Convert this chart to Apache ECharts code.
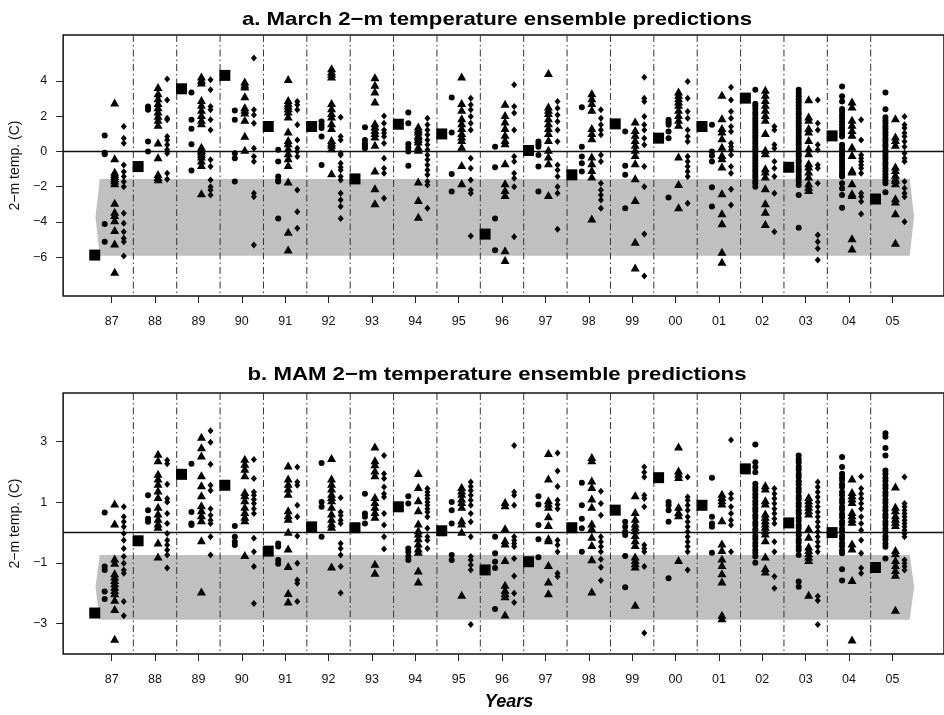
<!DOCTYPE html>
<html lang="en">
<head>
<meta charset="UTF-8">
<title>2-m temperature ensemble predictions</title>
<script src="https://cdn.jsdelivr.net/npm/echarts@6.0.0/dist/echarts.min.js"></script>
<style>
  html, body { margin: 0; padding: 0; background: #fff; }
</style>
</head>
<body>
<div id="main" style="width: 944px; height: 715px;"></div>
<script type="text/javascript">
// years on the x axis (one slot per year)
const years = ['87','88','89','90','91','92','93','94','95','96','97','98','99','00','01','02','03','04','05'];

// ---- panel a: March ----
const aObs = [-5.88, -0.86, 3.55, 4.31, 1.41, 1.41, -1.56, 1.54, 0.99, -4.69, 0.05, -1.33, 1.56, 0.75, 1.41, 3.02, -0.9, 0.88, -2.7];
const aDots = [
  [0.9, -0.07, -0.16, -4.12, -5.12],
  [2.55, 2.45, 2.36, 0.56, 0],
  [3.34, 1.79, 1.28, 0.41, -1.09],
  [2.32, 1.79, -0.1, -0.39, -1.71],
  [0.09, -0.58, -1.43, -1.62, -1.71, -3.8],
  [1.69, 1.5, 1.32, 0.84, -0.77],
  [1.37, 0.65, 0.45, 0.3, 0.18],
  [2.2, 1.6, 0.42, 0.2, 0, -0.82],
  [3.06, 1.07, -1.28, -2.28],
  [0.27, -0.9, -3.8, -5.6],
  [0.56, 0.4, 0.27, -0.2, -0.86, -2.28],
  [2.5, 0.27, -0.29, -0.67, -1.14],
  [1.13, -0.82, -1.33, -3.23],
  [1.79, 1.65, 1.51, 1.13, 0.75, -2.62],
  [1.51, 0, -0.25, -0.58, -2.04, -3.13],
  [3.49, 2.7, 2.57, 2.4, 2.21, 2.06, 1.88, 1.73, 1.57, 1.41, 1.24, 1.09, 0.91, 0.77, 0.6, 0.45, 0.28, 0.12, -0.03, -0.2, -0.36, -0.51, -0.69, -0.84, -1.01, -1.15, -1.33, -1.47, -1.66, -1.81, -2.0],
  [3.49, 3.31, 3.12, 2.94, 2.79, 2.6, 2.43, 2.24, 2.09, 1.9, 1.73, 1.57, 1.39, 1.22, 1.06, 0.87, 0.71, 0.53, 0.37, 0.19, 0.02, -0.16, -0.31, -0.5, -0.65, -0.84, -1.01, -1.17, -1.36, -1.52, -1.71, -1.9, -2.47, -4.33],
  [3.68, 3.12, 2.83, 2.41, 2.23, 2.04, 1.88, 1.69, 1.53, 1.34, 1.18, 1.0, 0.84, 0.37, 0.2, 0.03, -0.15, -0.3, -0.49, -0.64, -0.83, -0.99, -1.17, -1.31, -1.43, -1.8, -2.1, -2.47, -3.19],
  [3.34, 2.39, 1.94, 1.77, 1.61, 1.43, 1.27, 1.09, 0.93, 0.75, 0.59, 0.41, 0.26, 0.07, -0.09, -0.27, -0.43, -0.61, -0.77, -0.96, -1.11, -1.3, -1.47, -1.63, -1.8, -2.32]
];
const aTris = [
  [2.77, -0.39, -1.15, -1.28, -1.4, -1.52, -1.65, -1.8, -2.91, -3.42, -3.61, -3.9, -4.46, -5.22, -6.83],
  [3.65, 3.3, 3.02, 2.74, 2.51, 2.26, 2.02, 1.79, 1.51, 0.5, -0.33, -1.28, -1.45, -1.58],
  [4.25, 4.06, 3.9, 2.92, 2.64, 2.36, 2.07, 1.79, 1.6, 0.27, 0.1, 0, -0.15, -0.29, -0.52, -0.77, -2.38],
  [3.97, 3.8, 3.68, 3.12, 2.5, 2.36, 2.2, 1.79, 0.88, 0.09],
  [4.1, 2.92, 2.74, 2.6, 2.45, 2.26, 1.98, 1.13, 0.65, 0.46, 0.18, -0.1, -0.39, -0.77, -1.71, -4.55, -5.56],
  [4.72, 4.53, 4.4, 4.25, 2.74, 2.45, 2.17, 1.98, 1.6, 1.32, 0.65, 0.5, 0.37, 0.18, -1.24],
  [4.21, 3.78, 3.4, 2.83, 1.6, 1.41, 1.22, 1.04, 0.84, 0.37, -1.09, -2.09, -2.94],
  [1.41, 1.25, 1.13, 0.95, 0.84, 0.7, 0.56, 0.27, 0.09, -1.71, -2.75, -3.7],
  [4.25, 2.74, 2.36, 1.88, 1.6, 1.32, 1.04, 0.84, 0.65, 0.27, -0.77, -1.81],
  [2.7, 2.07, 1.69, 1.32, 0.94, 0.65, 0.46, -0.67, -1.81, -2.19, -2.47, -5.6, -6.16],
  [4.44, 2.55, 2.36, 2.17, 1.88, 1.6, 1.32, 1.04, 0.65, 0.09, -0.29, -0.67, -2.47],
  [3.3, 3.02, 2.74, 2.36, 1.32, 1.04, 0.75, -0.29, -0.67, -1.05, -1.43, -3.8],
  [1.69, 1.22, 0.94, 0.65, 0.37, 0.09, -0.2, -0.67, -1.52, -2.75, -5.12, -6.58],
  [3.4, 3.21, 3.02, 2.83, 2.64, 2.36, 2.07, 1.79, 1.51, -0.29, -1.85, -3.17],
  [3.21, 1.88, 1.32, 1.13, 0.75, 0.27, -0.2, -0.39, -0.86, -2.38, -3.51, -4.08, -5.69, -6.26],
  [3.49, 3.21, 2.92, 2.64, 2.36, 2.07, 1.79, 1.04, 0.09, -0.1, -0.96, -1.14, -1.43, -2.09, -2.94, -3.42, -4.12],
  [2.96, 1.98, 1.79, 1.32, 1.13, 0.65, 0.18, -0.1, -0.67, -0.86, -1.14, -1.43, -1.81, -2.0, -2.19],
  [2.83, 2.55, 1.79, 1.51, 1.22, 0.94, 0.27, -0.2, -1.05, -1.14, -1.81, -2.38, -2.47, -4.93, -5.5],
  [1.88, 0.84, 0.65, 0.37, -0.86, -1.05, -1.33, -1.52, -1.62, -1.81, -2.66, -2.84, -3.51, -5.18]
];
const aDiams = [
  [1.41, 0.75, 0.46, -0.77, -1.15, -1.43, -1.72, -2.0, -3.51, -4.08, -4.55, -4.93, -5.12, -5.93],
  [4.1, 2.92, 1.88, 1.79, 0.84, 0.65, 0.37, 0.09, -0.1, -1.24, -1.58],
  [4.06, 3.49, 2.55, 2.36, 1.79, 1.22, -0.48, -0.86, -1.62, -2.0, -2.19, -2.47],
  [5.3, 2.36, 2.07, 1.6, 0.18, -0.29, -0.58, -2.38, -2.57, -5.31],
  [2.83, 2.64, 2.36, 1.51, 0.65, 0.18, 0, -0.29, -2.19, -3.42, -4.36],
  [1.94, 0.84, 0.65, -0.1, -0.2, -0.67, -0.9, -1.05, -1.43, -1.62, -2.38, -2.75, -3.13, -3.8],
  [2.0, 1.6, 1.22, 1.04, 0.84, 0.46, -0.39, -0.96, -1.24, -2.66],
  [1.88, 1.51, 1.22, 0.94, 0.65, 0.37, 0.09, -0.2, -0.48, -0.77, -1.05, -1.33, -1.71, -1.9, -3.23],
  [3.02, 2.64, 2.36, 1.98, 1.6, 1.22, -0.39, -0.96, -1.62, -2.19, -2.38, -4.8],
  [3.78, 2.55, 2.17, 1.22, -0.29, -0.58, -1.24, -1.52, -2.0, -4.84],
  [2.83, 2.45, 2.07, 1.69, 1.22, 0.56, -0.77, -1.05, -1.43, -2.0, -2.38, -4.42],
  [2.36, 1.88, 1.51, 1.22, 0.94, -0.2, -0.58, -1.81, -2.19, -2.47, -2.75, -3.23],
  [4.21, 3.02, 2.83, 1.98, 1.51, 1.22, 0.75, 0.37, -0.86, -2.0, -4.69, -7.07],
  [3.97, 3.02, 2.26, 1.88, 1.22, 0.84, 0.56, -0.29, -0.58, -0.86, -1.14, -1.43, -2.94],
  [3.64, 2.92, 2.26, 1.88, 1.41, 1.13, 0.46, 0.27, 0.09, -0.2, -0.86, -1.24, -2.15, -3.04],
  [1.41, 1.22, 0.37, 0.18, -0.58, -0.96, -1.43, -2.38, -4.55],
  [2.92, 1.6, 1.22, 0.37, 0.09, -0.77, -0.96, -1.81, -4.74, -5.12, -5.5, -6.16],
  [1.79, 0.65, -0.2, -0.39, -0.58, -0.77, -0.96, -1.24, -2.38, -2.57, -2.84, -3.55],
  [1.98, 1.51, 1.32, 1.04, 0.84, 0.56, 0.27, -0.1, -0.39, -0.58, -1.71, -2.09, -2.38, -2.57, -3.99]
];
// grey band (x in year slots, y in deg C)
const aBandX = [-0.372, -0.274, 18.40, 18.50, 18.40, -0.274];
const aBandY = [-3.70, -1.56, -1.56, -3.70, -5.92, -5.92];

// ---- panel b: MAM ----
const bObs = [-2.65, -0.27, 1.92, 1.56, -0.61, 0.19, 0.16, 0.85, 0.06, -1.23, -0.96, 0.16, 0.74, 1.81, 0.9, 2.1, 0.32, 0, -1.15];
const bDots = [
  [0.66, -1.12, -1.23, -1.94, -2.19],
  [1.23, 0.74, 0.46, 0.36],
  [2.27, 0.68, 0.3, 0.25],
  [0.22, -0.14, -0.3, -0.41],
  [-0.36, -0.46, -0.9, -1.03],
  [2.29, 1.01, 0.85, -0.14],
  [1.28, 0.63, 0.52, 0.3],
  [1.2, 0.96, -0.52, -0.63, -0.79, -0.9],
  [1.01, 0.74, 0.3, -0.74, -0.9],
  [-0.14, -0.68, -0.96, -1.17, -2.52],
  [1.2, 0.93, 0.25, -0.22, -0.81],
  [1.64, 0.9, 0.46, 0.14, -0.63],
  [0.36, 0.19, 0.03, -0.08, -0.77, -1.8],
  [1.01, 0.9, 0.74, 0.36, -1.5],
  [1.81, 0.52, 0.3, 0.19, -0.66],
  [2.9, 2.32, 2.16, 1.99, 1.61, 1.49, 1.39, 1.26, 1.16, 1.03, 0.93, 0.8, 0.71, 0.57, 0.48, 0.34, 0.25, 0.11, 0.02, -0.11, -0.21, -0.34, -0.44, -0.57, -0.67, -0.79, -0.99],
  [2.54, 2.41, 2.31, 2.17, 2.07, 1.93, 1.83, 1.69, 1.59, 1.45, 1.35, 1.21, 1.11, 0.97, 0.87, 0.73, 0.63, 0.49, 0.39, 0.25, 0.15, 0.01, -0.09, -0.23, -0.33, -0.47, -0.57, -0.74, -1.61, -1.78],
  [2.49, 2.16, 1.94, 1.82, 1.73, 1.59, 1.5, 1.34, 1.23, 1.09, 0.99, 0.85, 0.75, 0.61, 0.51, 0.37, 0.27, 0.13, 0.03, -0.11, -0.21, -0.35, -0.45, -0.59, -0.68, -1.21, -1.58],
  [3.27, 3.16, 2.79, 2.54, 2.05, 1.94, 1.8, 1.7, 1.56, 1.46, 1.32, 1.22, 1.08, 0.98, 0.84, 0.74, 0.6, 0.5, 0.36, 0.26, 0.12, 0.02, -0.12, -0.22, -0.36, -0.47, -0.85]
];
const bTris = [
  [0.96, 0.3, -0.85, -0.99, -1.34, -1.45, -1.56, -1.67, -1.78, -1.89, -2.0, -2.21, -2.52, -3.5],
  [2.6, 2.38, 1.94, 1.78, 1.61, 1.39, 1.17, 0.85, 0.63, 0.46, 0.3, 0.19, -0.33, -0.79],
  [3.16, 2.81, 2.54, 1.89, 1.56, 1.23, 0.9, 0.74, 0.57, 0.41, -0.25, -1.94],
  [2.43, 2.27, 2.1, 1.89, 1.34, 1.23, 1.07, 0.85, 0.68, 0.52, 0.41, -0.74],
  [2.21, 1.78, 1.61, 1.45, 1.28, 0.74, 0.57, 0.46, 0.03, -0.52, -1.1, -1.99, -2.27],
  [2.46, 1.78, 1.61, 1.45, 1.28, 1.17, 1.07, 0.85, 0.63, 0.46, 0.3, 0.19, -1.12],
  [2.84, 2.38, 2.25, 2.05, 1.89, 1.17, 1.01, 0.85, 0.68, 0.52, -1.03, -1.32],
  [1.96, 1.5, 1.07, 0.74, 0.3, 0.08, -0.03, -0.19, -0.36, -0.52, -0.63, -1.25, -1.61],
  [1.5, 1.39, 1.28, 1.12, 1.01, 0.85, 0.41, 0.3, 0.03, -2.05],
  [1.01, 0.9, 0.14, -0.25, -0.36, -0.9, -1.72, -1.89, -2.0, -2.1, -2.7],
  [2.62, 1.78, 1.07, 0.96, 0.85, 0.54, 0.25, -0.19, -0.25, -1.07, -1.61, -2.0],
  [2.49, 2.38, 1.72, 1.5, 1.12, 0.85, 0.3, 0.14, -0.14, -0.41, -0.88, -1.94],
  [1.23, 0.68, 0.46, 0.3, 0.19, 0.08, -0.08, -0.25, -0.41, -0.79, -0.9, -1.01, -1.12, -2.38],
  [2.84, 2.05, 1.94, 1.83, 0.85, 0.68, 0.57, -0.9],
  [1.28, 1.17, 1.07, 0.96, 0.41, -0.36, -0.57, -0.85, -1.07, -1.34, -1.61, -2.71, -2.82],
  [1.56, 1.45, 1.07, 0.96, 0.63, 0.52, 0.41, 0.3, 0.19, 0.08, -0.03, -0.25, -0.79, -1.17, -1.28],
  [1.17, 1.07, 0.96, 0.85, 0.74, 0.63, 0.14, -0.14, -0.46, -0.57, -0.68, -0.79, -0.9, -2.05],
  [1.78, 1.34, 1.23, 1.12, 1.01, 0.68, 0.57, 0.46, 0.36, -0.36, -0.52, -1.56, -3.52],
  [1.52, 0.85, 0.74, 0.57, 0.46, 0.36, 0.25, -0.57, -0.68, -0.9, -1.07, -1.23, -1.39, -2.54]
];
const bDiams = [
  [0.85, 0.52, 0.36, 0.19, -0.03, -0.25, -0.52, -0.79, -1.01, -1.23, -1.34, -2.27, -2.74],
  [2.38, 2.27, 1.59, 1.12, 1.01, 0.63, 0.3, -0.03, -0.25, -0.41, -0.57, -0.74, -1.17],
  [3.36, 2.98, 2.25, 1.56, 1.39, 0.79, 0.57, 0.41, 0.3, -0.14, -0.74],
  [2.41, 1.78, 1.34, 1.23, 1.09, 0.96, 0.79, 0.63, -0.19, -0.63, -1.12, -2.34],
  [2.16, 1.67, 1.56, 0.9, 0.52, -0.11, -1.01, -1.56, -1.67, -2.27],
  [1.15, 0.68, 0.57, 0.41, 0.3, -0.36, -0.52, -0.74, -1.12, -1.99],
  [2.54, 1.94, 1.78, 1.5, 1.28, 1.17, 0.63, 0.25, -0.14, -0.54],
  [1.45, 1.34, 1.23, 1.12, 1.01, 0.9, 0.79, 0.68, 0.52, 0.14, -0.14, -0.25, -0.52],
  [1.67, 1.52, 1.39, 1.23, 1.07, 0.9, 0.63, 0.36, -0.14, -0.79, -0.9, -1.07, -1.23, -3.03],
  [2.87, 1.34, 1.23, 0.9, -0.14, -0.25, -0.36, -0.46, -0.85, -1.43, -2.0, -2.3],
  [2.62, 2.03, 1.52, 1.07, 0.93, 0.79, -0.25, -0.41, -0.63, -1.34, -1.45],
  [1.36, 0.96, 0.57, -0.14, -0.3, -0.46, -0.63, -0.88, -1.14, -1.58],
  [2.16, 1.99, 1.83, 1.23, 1.12, 0.85, -0.41, -0.52, -0.63, -1.12, -3.31],
  [1.83, 1.17, 1.07, 0.9, 0.74, 0.52, 0.36, 0.19, 0.03, -0.14, -0.3, -0.46, -0.63, -1.23],
  [3.05, 1.28, 1.12, 0.85, 0.63, 0.41, 0.25, -0.63],
  [1.45, 1.28, 1.12, 0.96, 0.79, 0.63, 0.46, 0.3, -0.3, -0.63, -1.45, -1.83],
  [1.67, 1.5, 1.34, 1.17, 1.01, 0.85, 0.68, 0.52, 0.36, 0.19, 0.03, -0.14, -0.3, -0.46, -0.63, -2.1, -2.24, -3.03],
  [1.85, 1.45, 1.28, 1.12, 0.96, 0.79, 0.52, 0.3, 0.08, -0.25, -0.68, -1.17, -1.34],
  [1.83, 0.96, 0.85, 0.74, 0.63, 0.52, 0.41, 0.3, 0.19, 0.08, -0.03, -0.14, -0.9, -1.01, -1.12, -1.23]
];
const bBandX = [-0.372, -0.274, 18.40, 18.50, 18.40, -0.274];
const bBandY = [-1.78, -0.74, -0.74, -1.78, -2.87, -2.87];

// y ticks of each panel
const aYTicks = [-6, -4, -2, 0, 2, 4];
const bYTicks = [-3, -1, 1, 3];

// horizontal shift of each marker column inside a year slot
const OFF_OBS = -0.39, OFF_DOT = -0.16, OFF_TRI = 0.07, OFF_DIA = 0.28;

const FONT = 'Liberation Sans, Arial, Helvetica, sans-serif';
const xTicks = years.map((y, i) => i);
const separators = years.slice(1).map((y, i) => i + 0.5);

function minus(v) {
    return v < 0 ? '\u2212' + Math.abs(v) : String(v);
}

function members(lists, off) {
    const out = [];
    lists.forEach((vals, i) => vals.forEach(v => out.push([i + off, v])));
    return out;
}

function xAxisFor(g) {
    return {
        gridIndex: g, type: 'value', min: -1.118, max: 19.19, position: 'bottom',
        axisLine: { show: false, onZero: false },
        axisTick: { show: true, length: 7, customValues: xTicks, lineStyle: { color: '#222', width: 1 } },
        axisLabel: { customValues: xTicks, formatter: v => years[Math.round(v)], color: '#111', fontSize: 12.5, fontFamily: FONT, margin: 19 },
        splitLine: { show: false }
    };
}

function yAxisFor(g, min, max, ticks) {
    return {
        gridIndex: g, type: 'value', min: min, max: max, position: 'left',
        name: '2\u2212m temp. (C)', nameLocation: 'middle', nameGap: 35,
        nameTextStyle: { color: '#111', fontSize: 14, fontFamily: FONT },
        axisLine: { show: false, onZero: false },
        axisTick: { show: true, length: 7, customValues: ticks, lineStyle: { color: '#222', width: 1 } },
        axisLabel: { customValues: ticks, formatter: minus, color: '#111', fontSize: 12.5, fontFamily: FONT, margin: 16 },
        splitLine: { show: false }
    };
}

function panelSeries(g, obs, dots, tris, diams, bandX, bandY) {
    const solid = { color: '#000', opacity: 1 };
    return [
        { // grey band
            type: 'custom', xAxisIndex: g, yAxisIndex: g, z: 1, silent: true,
            data: [[0, 0]],
            renderItem: function (params, api) {
                const pts = bandX.map((x, k) => api.coord([x, bandY[k]]));
                return { type: 'polygon', shape: { points: pts }, style: { fill: '#c0c0c0' } };
            }
        },
        { // year separators (dash-dot)
            type: 'custom', xAxisIndex: g, yAxisIndex: g, z: 2, silent: true,
            data: separators.map(s => [s, 0]),
            renderItem: function (params, api) {
                const x = api.coord([api.value(0), 0])[0];
                const cs = params.coordSys;
                return { type: 'line', shape: { x1: x, y1: cs.y, x2: x, y2: cs.y + cs.height },
                         style: { stroke: '#333', lineWidth: 1, lineDash: [7, 3, 1.5, 3] } };
            }
        },
        { // zero line
            type: 'custom', xAxisIndex: g, yAxisIndex: g, z: 2, silent: true,
            data: [[0, 0]],
            renderItem: function (params, api) {
                const y = api.coord([0, api.value(1)])[1];
                const cs = params.coordSys;
                return { type: 'line', shape: { x1: cs.x, y1: y, x2: cs.x + cs.width, y2: y },
                         style: { stroke: '#111', lineWidth: 1.5 } };
            }
        },
        { type: 'scatter', xAxisIndex: g, yAxisIndex: g, z: 3, symbol: 'circle', symbolSize: 6,
          itemStyle: solid, data: members(dots, OFF_DOT) },
        { type: 'scatter', xAxisIndex: g, yAxisIndex: g, z: 3, symbol: 'triangle', symbolSize: [9, 8],
          itemStyle: solid, data: members(tris, OFF_TRI) },
        { type: 'scatter', xAxisIndex: g, yAxisIndex: g, z: 3, symbol: 'diamond', symbolSize: [6, 7],
          itemStyle: solid, data: members(diams, OFF_DIA) },
        { type: 'scatter', xAxisIndex: g, yAxisIndex: g, z: 4, symbol: 'rect', symbolSize: 11,
          itemStyle: solid, data: obs.map((v, i) => [i + OFF_OBS, v]) }
    ];
}

function titleText(txt, y) {
    return {
        type: 'text', x: 497, y: y, scaleX: 1.2, silent: true,
        style: { text: txt, font: 'bold 18.5px ' + FONT, fill: '#000',
                 align: 'center', verticalAlign: 'middle', textAlign: 'center', textVerticalAlign: 'middle' }
    };
}

const chart = echarts.init(document.getElementById('main'), null, { renderer: 'canvas' });

const option = {
    animation: false,
    backgroundColor: '#fff',
    grid: [
        { left: 62, top: 35, width: 890, height: 261, show: true, borderColor: '#111', borderWidth: 1.5, backgroundColor: 'transparent' },
        { left: 62, top: 393, width: 890, height: 261, show: true, borderColor: '#111', borderWidth: 1.5, backgroundColor: 'transparent' }
    ],
    xAxis: [xAxisFor(0), xAxisFor(1)],
    yAxis: [yAxisFor(0, -8.2, 6.6, aYTicks), yAxisFor(1, -4.0, 4.6, bYTicks)],
    series: [].concat(
        panelSeries(0, aObs, aDots, aTris, aDiams, aBandX, aBandY),
        panelSeries(1, bObs, bDots, bTris, bDiams, bBandX, bBandY)
    ),
    graphic: [
        titleText('a. March 2\u2212m temperature ensemble predictions', 19.5),
        titleText('b. MAM 2\u2212m temperature ensemble predictions', 375),
        { type: 'text', x: 509, y: 702, silent: true,
          style: { text: 'Years', font: 'italic bold 18px ' + FONT,
                   fill: '#000', align: 'center', verticalAlign: 'middle', textAlign: 'center', textVerticalAlign: 'middle' } }
    ]
};

chart.setOption(option);
</script>
</body>
</html>
